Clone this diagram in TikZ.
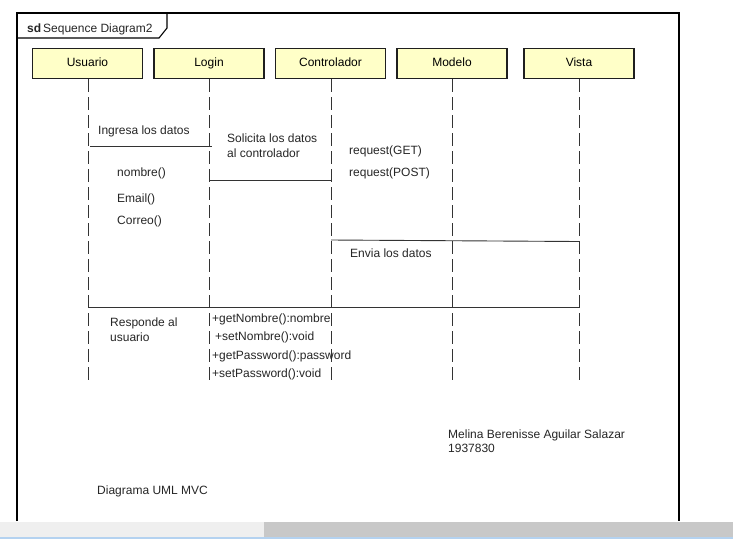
\documentclass[tikz,border=0pt]{standalone}
\usepackage{fontspec}
\setmainfont{Liberation Sans}
\begin{document}
\begin{tikzpicture}[x=1pt,y=-1pt,
  lifebox/.style={draw=black!88,line width=1.8pt,fill=boxyellow,minimum width=110pt,minimum height=30pt,inner sep=0pt,text height=8.6pt,text depth=2.5pt,font=\fontsize{12}{14}\selectfont},
  lifeline/.style={draw=black!80,line width=0.9pt,dash pattern=on 13pt off 5pt},
  msg/.style={draw=black!80,line width=0.9pt},
  txt/.style={anchor=base west,inner sep=0pt,font=\fontsize{12}{14}\selectfont,text=black!85}]
\definecolor{boxyellow}{HTML}{FFFFC8}
\definecolor{barlight}{HTML}{EFEFEF}
\definecolor{bardark}{HTML}{C8C8C8}
\definecolor{barblue}{HTML}{B4D2F0}
\useasboundingbox (0,0) rectangle (733,539);
\fill[white] (0,0) rectangle (733,539);
% frame
\draw[line width=1.1pt] (17,521) -- (17,13) -- (679,13) -- (679,521);
\draw[line width=1.1pt] (17,38) -- (159,38) -- (167,28) -- (167,13);
\node[txt] (title) at (27,32) {\textbf{sd}\,Sequence Diagram2};
% lifeline heads
\node[lifebox] (usuario) at (87.5,63.5) {Usuario};
\node[lifebox] (login) at (209,63.5) {Login};
\node[lifebox] (ctrl) at (330.5,63.5) {Controlador};
\node[lifebox] (modelo) at (452,63.5) {Modelo};
\node[lifebox] (vista) at (579,63.5) {Vista};
% lifeline ends
\coordinate (uend) at (88,382);
\coordinate (lend) at (209,382);
\coordinate (cend) at (331,382);
\coordinate (mend) at (452,382);
\coordinate (vend) at (579,382);
\draw[lifeline] (usuario.south -| uend) -- (uend);
\draw[lifeline] (login.south -| lend) -- (lend);
\draw[lifeline] (ctrl.south -| cend) -- (cend);
\draw[lifeline] (modelo.south -| mend) -- (mend);
\draw[lifeline] (vista.south -| vend) -- (vend);
% messages
\coordinate (m1a) at (90,146); \coordinate (m1b) at (212,146);
\coordinate (m2a) at (209,180); \coordinate (m2b) at (331,180);
\coordinate (m3a) at (331,240); \coordinate (m3b) at (579,241.5);
\coordinate (m4a) at (88,307); \coordinate (m4b) at (579,307);
\draw[msg] (m1a) -- (m1b);
\draw[msg] (m2a) -- (m2b);
\draw[msg] (m3a) -- (m3b);
\draw[msg] (m4a) -- (m4b);
% texts
\node[txt] (t1) at (98,134) {Ingresa los datos};
\node[txt] (t2) at (227,142) {Solicita los datos};
\node[txt] (t3) at (227,157) {al controlador};
\node[txt] (t4) at (117,176) {nombre()};
\node[txt] (t5) at (117,202) {Email()};
\node[txt] (t6) at (117,224) {Correo()};
\node[txt] (t7) at (349,154) {request(GET)};
\node[txt] (t8) at (349,176) {request(POST)};
\node[txt] (t9) at (350,257) {Envia los datos};
\node[txt] (t10) at (110,326) {Responde al};
\node[txt] (t11) at (110,341) {usuario};
\node[txt] (t12) at (212,322) {+getNombre():nombre};
\node[txt] (t13) at (215,340) {+setNombre():void};
\node[txt] (t14) at (212,359) {+getPassword():password};
\node[txt] (t15) at (212,377) {+setPassword():void};
\node[txt] (t16) at (448,438) {Melina Berenisse Aguilar Salazar};
\node[txt] (t17) at (448,452) {1937830};
\node[txt] (t18) at (97,494) {Diagrama UML MVC};
% scrollbar
\fill[barlight] (0,522) rectangle (733,537);
\fill[bardark] (264,522) rectangle (733,537);
\fill[barblue] (0,537) rectangle (733,539);
\end{tikzpicture}
\end{document}
